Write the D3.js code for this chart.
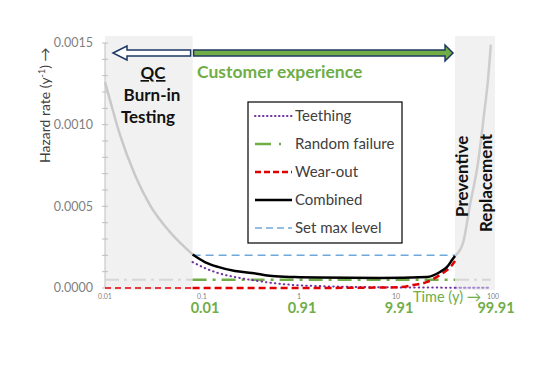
<!DOCTYPE html>
<html>
<head>
<meta charset="utf-8">
<script src="https://cdn.jsdelivr.net/npm/d3@7"></script>
<style>
  body { margin: 0; background: #fff; }
  svg { display: block; font-family: Lato, "Open Sans", sans-serif; }
</style>
</head>
<body>
<svg></svg>
<script>
// values (time in years, hazard in 1/y)
const xTicks = [0.01, 0.1, 1, 10, 100];
const xTickLabels = ["0.01", "0.1", "1", "10", "100"];
const customerLabels = ["", "0.01", "0.91", "9.91", "99.91"];
const yTicks = [0, 0.0005, 0.001, 0.0015];
const yTickLabels = ["0.0000", "0.0005", "0.0010", "0.0015"];

const tStart = 0.08, tEnd = 40.6;

const burnT = [0.01, 0.01126, 0.01428, 0.02037, 0.02907, 0.04674, 0.08];
const burnH = [0.00126, 0.00115, 0.000937, 0.000692, 0.000508, 0.000343, 0.000206];

const replT = [40.6, 45.7, 49.1, 57.9, 70, 80.7, 88.6, 95];
const replH = [0.000196, 0.000233, 0.000276, 0.000508, 0.000765, 0.00106, 0.00127, 0.00149];

const teethT = [0.08, 0.107, 0.146, 0.219, 0.327, 0.527, 0.91, 1.57, 4.26, 40.6, 95];
const teethH = [0.000159, 0.000122, 0.000092, 0.000067, 0.000049, 0.000031, 0.000018, 0.000012, 0.000006, 0.000002, 0.000001];

const randomT = [0.01, 0.08, 40.6, 95];
const randomH = [0.00005, 0.00005, 0.00005, 0.00005];

const wearT = [0.01, 0.08, 1, 5, 11, 15, 20.9, 28.4, 33.6, 37.8, 40.6];
const wearH = [0, 0, 0, 0.000002, 0.000005, 0.000018, 0.000037, 0.00008, 0.00011, 0.00014, 0.000165];

const combT = [0.08, 0.107, 0.146, 0.219, 0.327, 0.527, 0.91, 1.57, 6.84, 20.9, 28.4, 33.6, 37.8, 40.6];
const combH = [0.000205, 0.000159, 0.000129, 0.000104, 0.000092, 0.000073, 0.000067, 0.000064, 0.000061, 0.000067, 0.000098, 0.000129, 0.000171, 0.000196];

const maxLevel = 0.0002;

const legendNames = ["Teething", "Random failure", "Wear-out", "Combined", "Set max level"];

const svg = d3.select("svg")
    .attr("width", 538)
    .attr("height", 380);

const x = d3.scaleLog().domain([0.01, 100]).range([105, 493]);
const y = d3.scaleLinear().domain([0, 0.0015]).range([288, 43]);

const green = "#70ad47";
const navy = "#1f3864";

// shaded zones outside the customer window
svg.append("rect").attr("x", x(0.01)).attr("y", 36)
   .attr("width", x(tStart) - x(0.01)).attr("height", 254)
   .attr("fill", "#f1f1f1");
svg.append("rect").attr("x", x(tEnd)).attr("y", 36)
   .attr("width", x(100) + 2 - x(tEnd)).attr("height", 254)
   .attr("fill", "#f1f1f1");

// y axis
const yAxis = svg.append("g").attr("class", "y-axis");
yAxis.append("line").attr("x1", x(0.01)).attr("x2", x(0.01))
     .attr("y1", y(0.0015)).attr("y2", y(0)).attr("stroke", "#bfbfbf");
yAxis.selectAll("line.tick")
     .data(d3.range(0, 16).map(i => i * 0.0001))
     .enter().append("line")
       .attr("class", "tick")
       .attr("x1", x(0.01) - 3).attr("x2", x(0.01) + 3)
       .attr("y1", d => y(d)).attr("y2", d => y(d))
       .attr("stroke", "#bfbfbf");
yAxis.selectAll("text")
     .data(yTicks)
     .enter().append("text")
       .attr("x", 93).attr("y", d => y(d))
       .attr("dy", "0.35em")
       .attr("text-anchor", "end")
       .attr("font-size", 12.5)
       .attr("fill", "#7f7f7f")
       .text((d, i) => yTickLabels[i]);

// x axis labels
svg.selectAll("text.xtick")
   .data(xTicks)
   .enter().append("text")
     .attr("class", "xtick")
     .attr("x", d => x(d)).attr("y", 299)
     .attr("text-anchor", "middle")
     .attr("font-size", 7)
     .attr("fill", "#7f7f7f")
     .text((d, i) => xTickLabels[i]);

svg.selectAll("text.cust")
   .data(xTicks.slice(1))
   .enter().append("text")
     .attr("class", "cust")
     .attr("x", d => x(d) + 3).attr("y", 313)
     .attr("text-anchor", "middle")
     .attr("font-size", 14.5)
     .attr("font-weight", "bold")
     .attr("fill", green)
     .text((d, i) => customerLabels[i + 1]);

svg.append("text").attr("x", 413).attr("y", 302)
   .attr("font-size", 14.5).attr("fill", green)
   .text("Time (y) \u2192");

// y label
const yl = svg.append("text")
   .attr("transform", "translate(50,163) rotate(-90)")
   .attr("font-size", 14).attr("fill", "#404040");
yl.append("tspan").text("Hazard rate (y");
yl.append("tspan").attr("dy", -5).attr("font-size", 9).text("-1");
yl.append("tspan").attr("dy", 5).text(") \u2192");

const line = d3.line()
    .x(d => x(d[0]))
    .y(d => y(d[1]))
    .curve(d3.curveMonotoneX);

const pairs = (ts, hs) => ts.map((t, i) => [t, hs[i]]);
const part = (ts, hs, lo, hi) => pairs(ts, hs).filter(d => d[0] >= lo && d[0] <= hi);

const g = svg.append("g").attr("class", "curves");

// faded continuations
g.append("path").attr("d", line(pairs(burnT, burnH)))
 .attr("fill", "none").attr("stroke", "#c9c9c9").attr("stroke-width", 2.5);
g.append("path").attr("d", line(pairs(replT, replH)))
 .attr("fill", "none").attr("stroke", "#cdcdcd").attr("stroke-width", 2.5);
g.append("path").attr("d", line(part(randomT, randomH, 0.01, tStart)))
 .attr("fill", "none").attr("stroke", "#d6d6d6").attr("stroke-width", 2)
 .attr("stroke-dasharray", "14,5,3,5");
g.append("path").attr("d", line(part(randomT, randomH, tEnd, 95)))
 .attr("fill", "none").attr("stroke", "#d6d6d6").attr("stroke-width", 2)
 .attr("stroke-dasharray", "14,5,3,5");
g.append("path").attr("d", line(part(wearT, wearH, 0.01, tStart)))
 .attr("fill", "none").attr("stroke", "#e8383d").attr("stroke-width", 2)
 .attr("stroke-dasharray", "6,4");
g.append("path").attr("d", line(part(teethT, teethH, tEnd, 95)))
 .attr("fill", "none").attr("stroke", "#a78bd0").attr("stroke-width", 2)
 .attr("stroke-dasharray", "1.5,3").attr("stroke-linecap", "round");

// customer window
g.append("path").attr("d", line([[tStart, maxLevel], [tEnd, maxLevel]]))
 .attr("fill", "none").attr("stroke", "#6fa8dc").attr("stroke-width", 1.5)
 .attr("stroke-dasharray", "8,5");
g.append("path").attr("d", line(part(randomT, randomH, tStart, tEnd)))
 .attr("fill", "none").attr("stroke", green).attr("stroke-width", 2.5)
 .attr("stroke-dasharray", "14,6,3,6");
g.append("path").attr("d", line(part(teethT, teethH, tStart, tEnd)))
 .attr("fill", "none").attr("stroke", "#7030a0").attr("stroke-width", 2)
 .attr("stroke-dasharray", "0.5,4").attr("stroke-linecap", "round");
g.append("path").attr("d", line(part(wearT, wearH, tStart, tEnd)))
 .attr("fill", "none").attr("stroke", "#e00000").attr("stroke-width", 2.5)
 .attr("stroke-dasharray", "7,4");
g.append("path").attr("d", line(pairs(combT, combH)))
 .attr("fill", "none").attr("stroke", "#000").attr("stroke-width", 2.5);

// arrows
const ay = 53;
const x0 = x(0.01), xs = x(tStart), xe = x(tEnd);
svg.append("path")
   .attr("d", `M${x0 + 8},${ay} L${x0 + 22},${ay - 7} L${x0 + 22},${ay - 3} L${xs - 2},${ay - 3} L${xs - 2},${ay + 3} L${x0 + 22},${ay + 3} L${x0 + 22},${ay + 7} Z`)
   .attr("fill", "#fff").attr("stroke", navy).attr("stroke-width", 1.5);
svg.append("path")
   .attr("d", `M${xe - 2},${ay} L${xe - 10},${ay - 8} L${xe - 10},${ay - 3} L${xs + 1},${ay - 3} L${xs + 1},${ay + 3} L${xe - 10},${ay + 3} L${xe - 10},${ay + 8} Z`)
   .attr("fill", green).attr("stroke", navy).attr("stroke-width", 1.5);

// annotations
svg.append("text").attr("x", 197).attr("y", 78)
   .attr("font-size", 17.5).attr("font-weight", "bold").attr("fill", green)
   .text("Customer experience");

const qc = svg.append("g").attr("font-size", 17).attr("font-weight", "bold")
   .attr("fill", "#111").attr("text-anchor", "middle");
qc.append("text").attr("x", 153).attr("y", 79).attr("text-decoration", "underline").text("QC");
qc.append("text").attr("x", 152).attr("y", 101).text("Burn-in");
qc.append("text").attr("x", 148).attr("y", 123).text("Testing");

svg.append("text").attr("transform", "translate(468,217) rotate(-90)")
   .attr("font-size", 17).attr("font-weight", "bold").attr("fill", "#111")
   .text("Preventive");
svg.append("text").attr("transform", "translate(492,232) rotate(-90)")
   .attr("font-size", 17).attr("font-weight", "bold").attr("fill", "#111")
   .text("Replacement");

// legend
const legend = svg.append("g").attr("class", "legend");
legend.append("rect").attr("x", 248).attr("y", 102)
      .attr("width", 154).attr("height", 141)
      .attr("fill", "#fff").attr("stroke", "#000").attr("stroke-width", 1.2);

const styles = [
  {stroke: "#7030a0", w: 2, dash: "0.5,3.5", cap: "round"},
  {stroke: green, w: 2.5, dash: "16,8,2,20", cap: "butt"},
  {stroke: "#e00000", w: 2.5, dash: "6,3", cap: "butt"},
  {stroke: "#000", w: 2.5, dash: null, cap: "butt"},
  {stroke: "#6fa8dc", w: 1.5, dash: "7,4", cap: "butt"}
];

const rows = legend.selectAll("g.row")
  .data(legendNames)
  .enter().append("g")
    .attr("class", "row")
    .attr("transform", (d, i) => `translate(0,${116 + i * 28})`);

rows.append("line")
    .attr("x1", 255).attr("x2", 292)
    .attr("stroke", (d, i) => styles[i].stroke)
    .attr("stroke-width", (d, i) => styles[i].w)
    .attr("stroke-dasharray", (d, i) => styles[i].dash)
    .attr("stroke-linecap", (d, i) => styles[i].cap);

rows.append("text")
    .attr("x", 295).attr("dy", "0.35em")
    .attr("font-size", 15).attr("fill", "#404040")
    .text(d => d);
</script>
</body>
</html>
